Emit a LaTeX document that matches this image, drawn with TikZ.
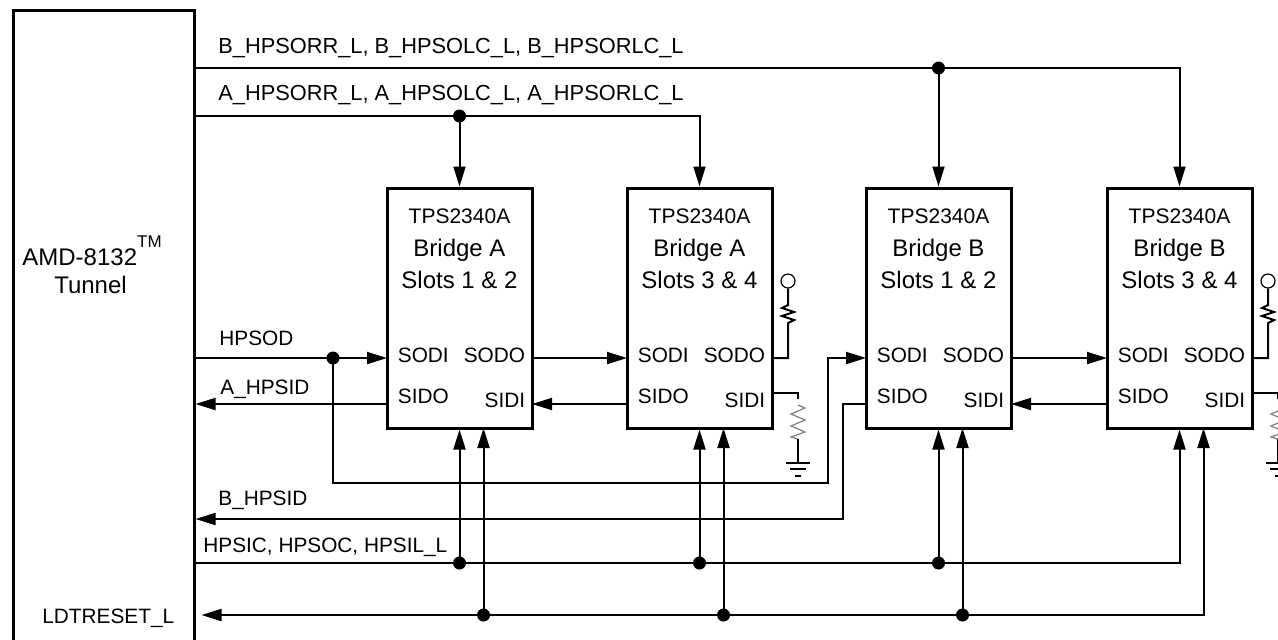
\documentclass[tikz,border=0pt]{standalone}
\usepackage{fontspec}
\setmainfont{Liberation Sans}
\usetikzlibrary{arrows.meta}

\begin{document}
\begin{tikzpicture}[x=0.5pt,y=-0.5pt,
        sig/.style={line width=1pt},
        tip/.style={-{Triangle[length=10pt,width=6pt]}},
        chip/.style={draw,line width=1.5pt,minimum width=72.5pt,minimum height=120pt,inner sep=0pt},
        lbl/.style={font=\fontsize{10.4}{12}\selectfont,inner sep=0pt,anchor=base west},
        big/.style={font=\fontsize{12}{14}\selectfont,inner sep=0pt,anchor=base},
        thinw/.style={line width=0.6pt}]
        \useasboundingbox (0,0) rectangle (1278,639);

        \node[draw,line width=1.5pt,minimum width=90.5pt,minimum height=325pt] (tunnel) at (103.5,335) {};
        \node[big,anchor=base west] (amd) at (22,265) {AMD-8132\raisebox{8.6pt}{\fontsize{8.5}{9}\selectfont TM}};
        \node[big] (tun) at (90.5,293) {Tunnel};
        \node[lbl] (ldt) at (42,623) {LDTRESET\_L};

        \foreach \n/\x/\br/\sl in {1/459.5/A/1 \& 2,2/699.5/A/3 \& 4,3/938.5/B/1 \& 2,4/1179.5/B/3 \& 4} {
          \node[chip] (b\n) at (\x,308) {};
          \node[big,font=\fontsize{10.5}{12}\selectfont] (t\n) at (\x,223) {TPS2340A};
          \node[big] (br\n) at (\x,256) {Bridge \br};
          \node[big] (sl\n) at (\x,288) {Slots \sl};
          \node[lbl] (psodi\n) at (\x-62,362) {SODI};
          \node[lbl,anchor=base east] (psodo\n) at (\x+66,362) {SODO};
          \node[lbl] (psido\n) at (\x-62,403) {SIDO};
          \node[lbl,anchor=base east] (psidi\n) at (\x+66,407) {SIDI};
          \coordinate (sodi\n) at (\x-72.5,358);
          \coordinate (sodo\n) at (\x+72.5,358);
          \coordinate (sido\n) at (\x-72.5,404);
          \coordinate (sidi\n) at (\x+72.5,404);
          \coordinate (pin\n) at (\x+24,428);
          \coordinate (c\n) at (\x,563);
          \coordinate (r\n) at (\x+24,615);
        }

        \coordinate (jb) at (938.5,68);
        \coordinate (ja) at (459.5,116);
        \coordinate (jd) at (333,358);
        \coordinate (lp) at (828,483);
        \coordinate (bh) at (843,519);

        \node[lbl,font=\fontsize{10.9}{12}\selectfont] (lb) at (218,53) {B\_HPSORR\_L, B\_HPSOLC\_L, B\_HPSORLC\_L};
        \node[lbl,font=\fontsize{10.9}{12}\selectfont] (la) at (218,100) {A\_HPSORR\_L, A\_HPSOLC\_L, A\_HPSORLC\_L};
        \node[lbl] (lsod) at (219,345) {HPSOD};
        \node[lbl] (lah) at (220,394) {A\_HPSID};
        \node[lbl] (lbh) at (218,505) {B\_HPSID};
        \node[lbl] (lhc) at (203,552) {HPSIC, HPSOC, HPSIL\_L};

        \draw[sig,tip] (tunnel.east |- jb) -| (b4.north);
        \draw[sig,tip] (jb) -- (b3.north);
        \draw[sig,tip] (tunnel.east |- ja) -| (b2.north);
        \draw[sig,tip] (ja) -- (b1.north);

        \draw[sig,tip] (tunnel.east |- jd) -- (sodi1);
        \draw[sig,tip] (jd) |- (lp) |- (sodi3);
        \draw[sig,tip] (sido1) -- (tunnel.east |- sido1);
        \draw[sig,tip] (sodo1) -- (sodi2);
        \draw[sig,tip] (sido2) -- (sidi1);
        \draw[sig,tip] (sido3) -| (bh) -- (tunnel.east |- bh);
        \draw[sig,tip] (sodo3) -- (sodi4);
        \draw[sig,tip] (sido4) -- (sidi3);

        \draw[sig,tip] (tunnel.east |- c1) -| (b4.south);
        \draw[sig,{Triangle[length=10pt,width=6pt]}-{Triangle[length=10pt,width=6pt]},shorten >=3pt] (pin4) |- (tunnel.east |- r1);
        \foreach \n in {1,2,3} {
          \draw[sig,tip] (c\n) -- (b\n.south);
          \draw[sig,tip] (r\n) -- (pin\n);
          \fill (c\n) circle[radius=3.25pt];
          \fill (r\n) circle[radius=3.25pt];
        }
        \fill (jb) circle[radius=3.25pt];
        \fill (ja) circle[radius=3.25pt];
        \fill (jd) circle[radius=3.25pt];

        \foreach \n in {2,4} {
          \node[circle,draw,thinw,minimum size=7pt,inner sep=0pt] (vcc\n) at ([xshift=8pt,yshift=38.5pt]sodo\n) {};
          \draw[sig] (sodo\n) -- ++(16,0) -- ++(0,-35) -- ++(6,-3) -- ++(-12,-4) -- ++(12,-4) -- ++(-12,-4) -- ++(6,-3) -- (vcc\n.south);
          \draw[thinw] ([yshift=5.5pt]sidi\n) -- ++(26,0) -- ++(0,6);
          \draw[thinw,gray] ([xshift=13pt,yshift=-0.5pt]sidi\n) -- ++(7,3) -- ++(-14,6) -- ++(14,6) -- ++(-14,6) -- ++(14,6) -- ++(-14,5) -- ++(7,2) coordinate (gnd\n);
          \draw[thinw] (gnd\n) -- ++(0,24) ++(-12,0) -- ++(24,0) ++(-20,6) -- ++(16,0) ++(-11,7) -- ++(6,0);
        }
      \end{tikzpicture}
\end{document}
